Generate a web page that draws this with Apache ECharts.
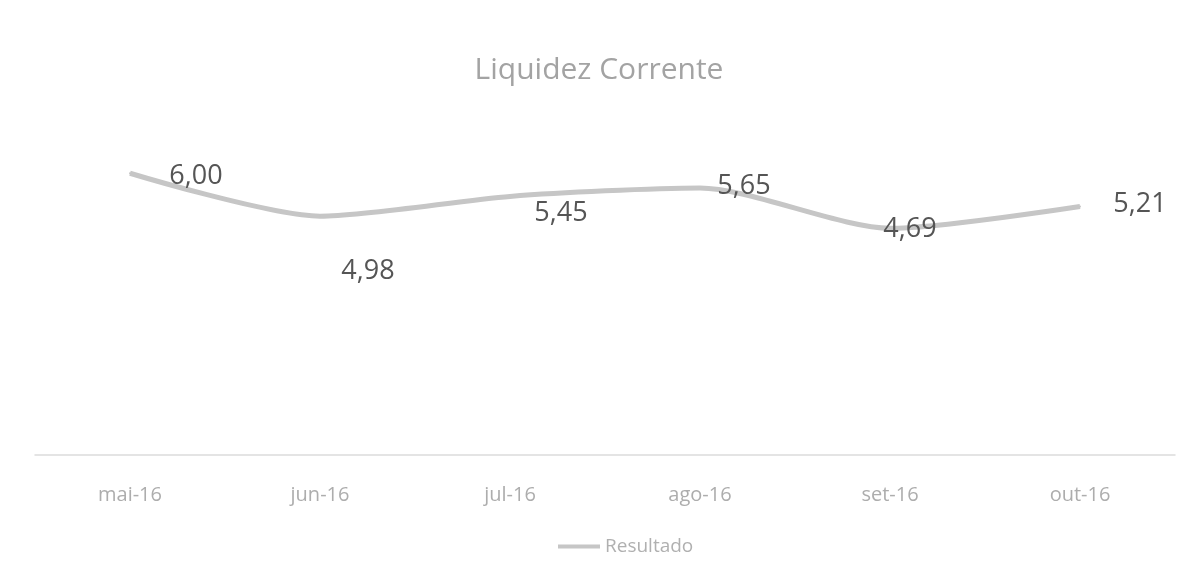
<!DOCTYPE html>
<html>
<head>
<meta charset="utf-8">
<script src="https://cdn.jsdelivr.net/npm/echarts@6/dist/echarts.min.js"></script>
<style>
  html, body { margin: 0; padding: 0; background: #fff; }
  #chart { width: 1198px; height: 584px; }
</style>
</head>
<body>
<div id="chart"></div>
<script>
const categories = ['mai-16', 'jun-16', 'jul-16', 'ago-16', 'set-16', 'out-16']
const resultado = [6.00, 4.98, 5.45, 5.65, 4.69, 5.21]

// label nudges, one per point (data labels sit at varying spots in the original)
const labelOffsets = [[66, 3], [48, 55], [51, 17], [44, -2], [20, 1], [60, -2]]

const chart = echarts.init(document.getElementById('chart'))
const font = '"Open Sans", "Noto Sans", sans-serif'

chart.setOption({
  animation: false,
  backgroundColor: '#ffffff',
  textStyle: { fontFamily: font },
  title: {
    text: 'Liquidez Corrente',
    left: 'center',
    top: 50,
    textStyle: { color: '#a3a3a3', fontSize: 30, fontWeight: 'normal', fontFamily: font }
  },
  legend: {
    left: 553,
    top: 532,
    icon: 'rect',
    itemWidth: 42,
    itemHeight: 4,
    itemGap: 4,
    textStyle: { color: '#b0b0b0', fontSize: 19 },
    data: ['Resultado']
  },
  grid: { left: 35, right: 23, top: 127, bottom: 129 },
  xAxis: {
    type: 'category',
    data: categories,
    boundaryGap: true,
    axisLine: { onZero: false, lineStyle: { color: '#dcdcdc', width: 1.5 } },
    axisTick: { show: false },
    axisLabel: { color: '#adadad', fontSize: 20, margin: 30 }
  },
  yAxis: {
    type: 'value',
    min: -0.7,
    max: 7.1,
    show: false,
    splitLine: { show: false }
  },
  series: [
    {
      name: 'Resultado',
      type: 'line',
      smooth: 0.25,
      showSymbol: true,
      symbol: 'circle',
      symbolSize: 2,
      itemStyle: { color: '#c6c6c6' },
      color: '#b9b9b9',
      lineStyle: { color: '#c6c6c6', width: 5 },
      label: {
        show: true,
        position: 'inside',
        color: '#555555',
        fontSize: 27,
        formatter: (p) => p.value.toFixed(2).replace('.', ',')
      },
      data: resultado.map((v, i) => ({
        value: v,
        label: { show: true, offset: labelOffsets[i] }
      }))
    }
  ]
})
</script>
</body>
</html>
